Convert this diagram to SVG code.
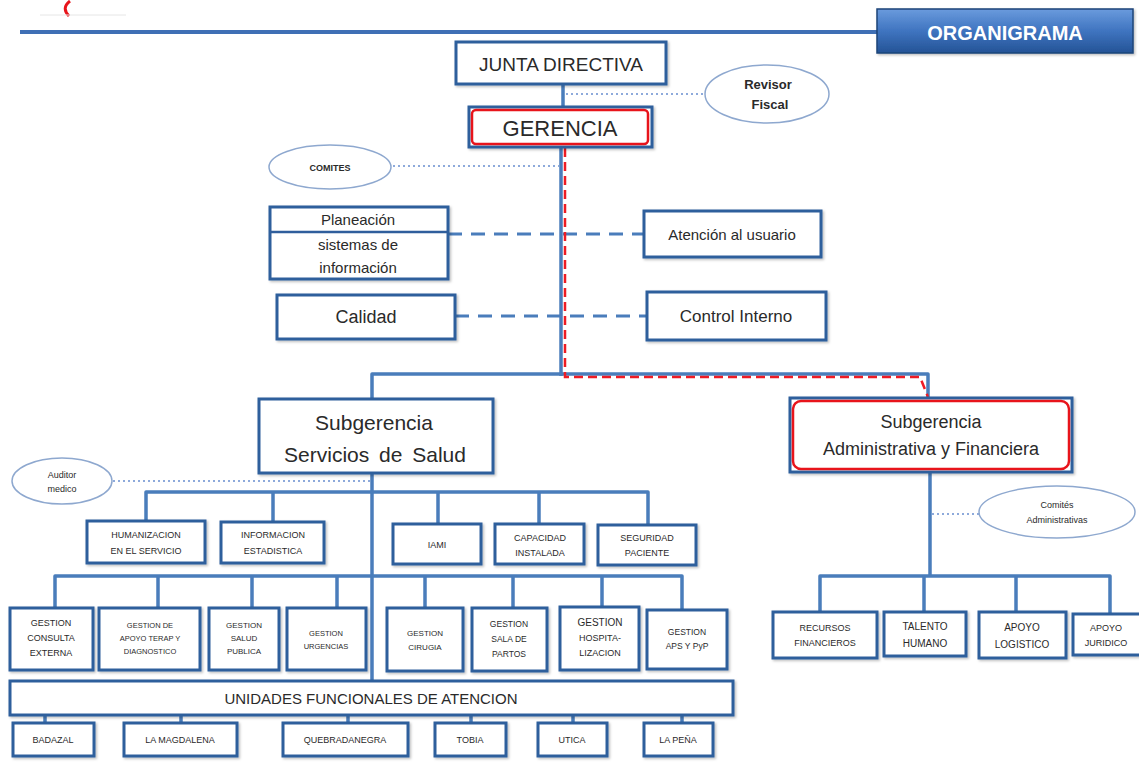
<svg xmlns="http://www.w3.org/2000/svg" width="1139" height="769" viewBox="0 0 1139 769">
<defs>
<linearGradient id="orgGrad" x1="0" y1="0" x2="0" y2="1">
<stop offset="0" stop-color="#6A9BDD"/>
<stop offset="0.5" stop-color="#3F74C0"/>
<stop offset="1" stop-color="#245396"/>
</linearGradient>
<filter id="sh" x="-10%" y="-10%" width="130%" height="140%">
<feDropShadow dx="1.5" dy="1.5" stdDeviation="1" flood-color="#000" flood-opacity="0.25"/>
</filter>
</defs>
<style>
.box{fill:#fff;stroke:#2F5E9C;stroke-width:3;filter:url(#sh)}
.redbox{fill:#fff;stroke:#E8141B;stroke-width:2.5}
.ln{fill:none;stroke:#4A7DBB;stroke-width:3.5;stroke-linejoin:round}
.dash{fill:none;stroke:#4A7DBB;stroke-width:3;stroke-dasharray:14 9}
.dot{fill:none;stroke:#8EAADB;stroke-width:2;stroke-dasharray:2 3}
.rd{fill:none;stroke:#EE1C24;stroke-width:2.5;stroke-dasharray:9 5}
.ell{fill:#fff;stroke:#8EA8CF;stroke-width:1.5}
text{font-family:"Liberation Sans",Arial,sans-serif;fill:#2a2a2a;text-anchor:middle}
.s{font-size:9px}
</style>

<!-- header -->
<path d="M70,1 Q61,8 69,16" fill="none" stroke="#E8141B" stroke-width="3"/>
<line x1="40" y1="15" x2="126" y2="15" stroke="#E6E6E6" stroke-width="1"/>
<rect x="21" y="32" width="859" height="2" fill="#C8C8C8"/>
<rect x="20" y="30" width="860" height="4" fill="#3F6FB5"/>
<g id="organigrama">
<rect x="877" y="9" width="256" height="44" fill="url(#orgGrad)" stroke="#1E4478" stroke-width="1.5" filter="url(#sh)"/>
<text x="1005" y="40" style="font-size:20px;font-weight:bold;fill:#fff">ORGANIGRAMA</text>
</g>

<g id="connectors">
<line class="ln" x1="563" y1="84" x2="563" y2="108"/>
<line class="dot" x1="566" y1="94" x2="705" y2="94"/>
<line class="dot" x1="393" y1="166" x2="559" y2="166"/>
<line class="ln" x1="561" y1="147" x2="561" y2="376"/>
<path class="ln" d="M372,399 V374 H928 V398"/>
<line class="dash" x1="448" y1="234" x2="644" y2="234"/>
<line class="dash" x1="455" y1="316" x2="647" y2="316"/>
<path class="rd" d="M565,148 V377 H920 L928,397"/>
<line class="ln" x1="372" y1="473" x2="372" y2="681"/>
<line class="dot" x1="113" y1="481" x2="370" y2="481"/>
<path class="ln" d="M146,521 V492 H648 V525"/>
<line class="ln" x1="273" y1="492" x2="273" y2="522"/>
<line class="ln" x1="438" y1="492" x2="438" y2="524"/>
<line class="ln" x1="539" y1="492" x2="539" y2="524"/>
<path class="ln" d="M55,608 V576 H682 V610"/>
<line class="ln" x1="158" y1="576" x2="158" y2="608"/>
<line class="ln" x1="252" y1="576" x2="252" y2="608"/>
<line class="ln" x1="337" y1="576" x2="337" y2="608"/>
<line class="ln" x1="425" y1="576" x2="425" y2="608"/>
<line class="ln" x1="513" y1="576" x2="513" y2="608"/>
<line class="ln" x1="602" y1="576" x2="602" y2="607"/>
<line class="ln" x1="45" y1="715" x2="45" y2="723"/>
<line class="ln" x1="181" y1="715" x2="181" y2="723"/>
<line class="ln" x1="348" y1="715" x2="348" y2="723"/>
<line class="ln" x1="471" y1="715" x2="471" y2="723"/>
<line class="ln" x1="573" y1="715" x2="573" y2="723"/>
<line class="ln" x1="682" y1="715" x2="682" y2="723"/>
<line class="ln" x1="930" y1="472" x2="930" y2="577"/>
<line class="dot" x1="932" y1="514" x2="980" y2="514"/>
<path class="ln" d="M820,612 V576 H1110 V614"/>
<line class="ln" x1="924" y1="576" x2="924" y2="612"/>
<line class="ln" x1="1016" y1="576" x2="1016" y2="612"/>
</g>

<g id="junta"><rect class="box" x="456" y="42" width="210" height="42"/><text x="561" y="71" style="font-size:19px">JUNTA DIRECTIVA</text></g>
<g id="revisor"><ellipse class="ell" cx="767" cy="94" rx="62" ry="29"/><text x="768" y="89" style="font-size:13px;font-weight:bold">Revisor</text><text x="770" y="109" style="font-size:13px;font-weight:bold">Fiscal</text></g>
<g id="gerencia"><rect class="box" x="469" y="107" width="183" height="40"/><rect class="redbox" x="472" y="110" width="176" height="34" rx="4"/><text x="560" y="136" style="font-size:22px">GERENCIA</text></g>
<g id="comites"><ellipse class="ell" cx="330" cy="167" rx="61" ry="22"/><text x="330" y="171" style="font-size:9px;font-weight:bold">COMITES</text></g>
<g id="planeacion"><rect class="box" x="270" y="207" width="178" height="72"/><line x1="270" y1="232" x2="448" y2="232" stroke="#2F5E9C" stroke-width="2.5"/><text x="358" y="225" style="font-size:15px">Planeación</text><text x="358" y="250" style="font-size:15px">sistemas de</text><text x="358" y="273" style="font-size:15px">información</text></g>
<g id="atencion"><rect class="box" x="644" y="211" width="177" height="46"/><text x="732" y="240" style="font-size:15px">Atención al usuario</text></g>
<g id="calidad"><rect class="box" x="277" y="295" width="178" height="44"/><text x="366" y="323" style="font-size:18px">Calidad</text></g>
<g id="control"><rect class="box" x="647" y="292" width="179" height="48"/><text x="736" y="322" style="font-size:17px">Control Interno</text></g>

<g id="subsalud"><rect class="box" x="259" y="399" width="234" height="74"/><text x="374" y="430" style="font-size:21px">Subgerencia</text><text x="375" y="462" style="font-size:21px;word-spacing:4px">Servicios de Salud</text></g>
<g id="subadmin"><rect class="box" x="790" y="398" width="282" height="74"/><rect class="redbox" x="793" y="401" width="276" height="68" rx="8"/><text x="931" y="428" style="font-size:18px">Subgerencia</text><text x="931" y="455" style="font-size:18px">Administrativa y Financiera</text></g>

<g id="auditor"><ellipse class="ell" cx="62" cy="481" rx="50" ry="23"/><text class="s" x="62" y="478">Auditor</text><text class="s" x="62" y="492">medico</text></g>
<g id="comitesadm"><ellipse class="ell" cx="1057" cy="512" rx="78" ry="26"/><text class="s" x="1057" y="508">Comités</text><text class="s" x="1057" y="523">Administrativas</text></g>

<g id="humanizacion"><rect class="box" x="87" y="521" width="118" height="42"/><text class="s" x="146" y="538">HUMANIZACION</text><text class="s" x="146" y="554">EN EL SERVICIO</text></g>
<g id="informacion"><rect class="box" x="221" y="522" width="103" height="41"/><text class="s" x="273" y="538">INFORMACION</text><text class="s" x="273" y="554">ESTADISTICA</text></g>
<g id="iami"><rect class="box" x="393" y="524" width="88" height="40"/><text class="s" x="437" y="548">IAMI</text></g>
<g id="capacidad"><rect class="box" x="495" y="524" width="89" height="40"/><text class="s" x="540" y="541">CAPACIDAD</text><text class="s" x="540" y="556">INSTALADA</text></g>
<g id="seguridad"><rect class="box" x="598" y="525" width="98" height="40"/><text class="s" x="647" y="541">SEGURIDAD</text><text class="s" x="647" y="556">PACIENTE</text></g>

<g id="consulta"><rect class="box" x="10" y="608" width="83" height="62"/><text class="s" x="51" y="626">GESTION</text><text class="s" x="51" y="641">CONSULTA</text><text class="s" x="51" y="656">EXTERNA</text></g>
<g id="apoyoterap"><rect class="box" x="99" y="608" width="101" height="62"/><text x="150" y="628" style="font-size:7.5px">GESTION DE</text><text x="150" y="641" style="font-size:7.5px">APOYO TERAP Y</text><text x="150" y="654" style="font-size:7.5px">DIAGNOSTICO</text></g>
<g id="saludpublica"><rect class="box" x="209" y="608" width="70" height="62"/><text x="244" y="628" style="font-size:8px">GESTION</text><text x="244" y="641" style="font-size:8px">SALUD</text><text x="244" y="654" style="font-size:8px">PUBLICA</text></g>
<g id="urgencias"><rect class="box" x="287" y="608" width="79" height="62"/><text x="326" y="636" style="font-size:7.5px">GESTION</text><text x="326" y="649" style="font-size:7.5px">URGENCIAS</text></g>
<g id="cirugia"><rect class="box" x="387" y="608" width="76" height="63"/><text x="425" y="636" style="font-size:8px">GESTION</text><text x="425" y="650" style="font-size:8px">CIRUGIA</text></g>
<g id="partos"><rect class="box" x="472" y="608" width="75" height="63"/><text x="509" y="627" style="font-size:8.5px">GESTION</text><text x="509" y="642" style="font-size:8.5px">SALA DE</text><text x="509" y="657" style="font-size:8.5px">PARTOS</text></g>
<g id="hospitalizacion"><rect class="box" x="560" y="607" width="79" height="63"/><text x="600" y="626" style="font-size:10px">GESTION</text><text x="600" y="641" style="font-size:9px">HOSPITA-</text><text x="600" y="656" style="font-size:9px">LIZACION</text></g>
<g id="aps"><rect class="box" x="647" y="610" width="80" height="59"/><text x="687" y="635" style="font-size:8.5px">GESTION</text><text x="687" y="649" style="font-size:8.5px">APS Y PyP</text></g>

<g id="unidades"><rect class="box" x="10" y="681" width="723" height="34"/><text x="371" y="704" style="font-size:15px">UNIDADES FUNCIONALES DE ATENCION</text></g>
<g id="badazal"><rect class="box" x="13" y="723" width="81" height="33"/><text class="s" x="53" y="743">BADAZAL</text></g>
<g id="magdalena"><rect class="box" x="124" y="723" width="113" height="33"/><text class="s" x="180" y="743">LA MAGDALENA</text></g>
<g id="quebradanegra"><rect class="box" x="283" y="723" width="125" height="33"/><text class="s" x="345" y="743">QUEBRADANEGRA</text></g>
<g id="tobia"><rect class="box" x="435" y="723" width="71" height="33"/><text class="s" x="470" y="743">TOBIA</text></g>
<g id="utica"><rect class="box" x="538" y="723" width="69" height="33"/><text class="s" x="572" y="743">UTICA</text></g>
<g id="lapena"><rect class="box" x="644" y="723" width="69" height="33"/><text class="s" x="678" y="743">LA PEÑA</text></g>

<g id="recursos"><rect class="box" x="773" y="612" width="104" height="46"/><text class="s" x="825" y="631">RECURSOS</text><text class="s" x="825" y="646">FINANCIEROS</text></g>
<g id="talento"><rect class="box" x="884" y="612" width="82" height="44"/><text x="925" y="630" style="font-size:10px">TALENTO</text><text x="925" y="647" style="font-size:10px">HUMANO</text></g>
<g id="logistico"><rect class="box" x="979" y="612" width="87" height="46"/><text x="1022" y="631" style="font-size:10px">APOYO</text><text x="1022" y="648" style="font-size:10px">LOGISTICO</text></g>
<g id="juridico"><rect class="box" x="1073" y="614" width="70" height="41"/><text class="s" x="1106" y="631">APOYO</text><text class="s" x="1106" y="646">JURIDICO</text></g>
</svg>
